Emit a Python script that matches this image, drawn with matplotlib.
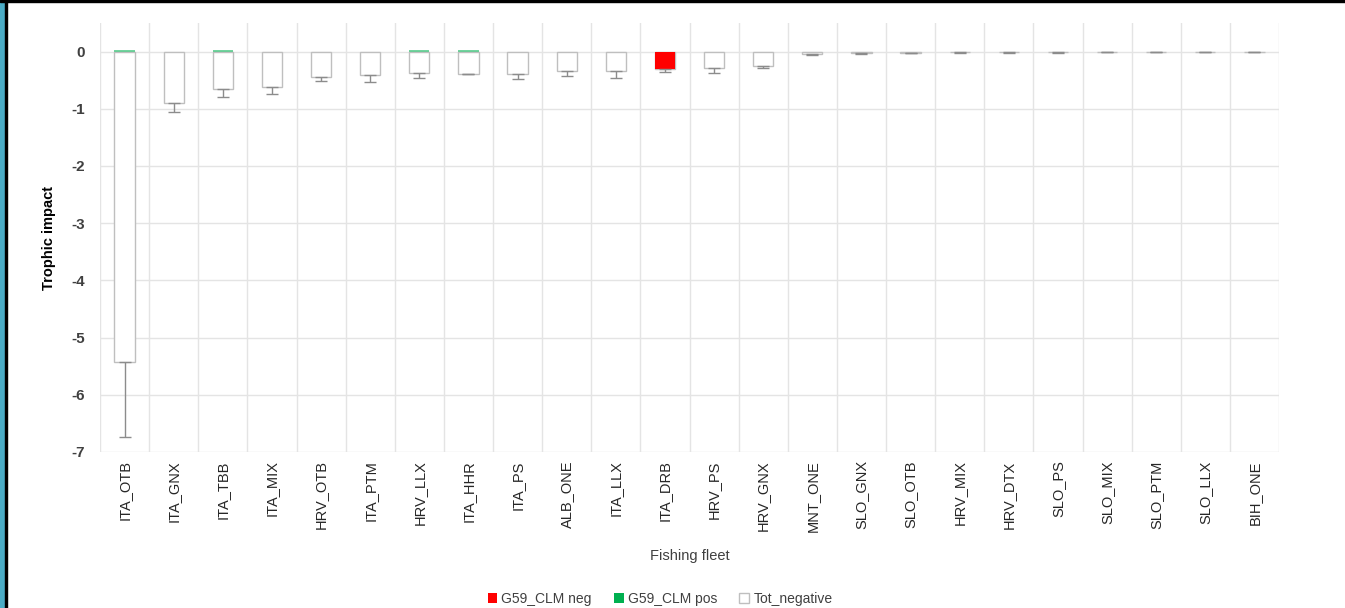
import numpy as np
import matplotlib.pyplot as plt
from matplotlib.patches import Patch, Rectangle

fleets = ['ITA_OTB', 'ITA_GNX', 'ITA_TBB', 'ITA_MIX', 'HRV_OTB', 'ITA_PTM',
          'HRV_LLX', 'ITA_HHR', 'ITA_PS', 'ALB_ONE', 'ITA_LLX', 'ITA_DRB',
          'HRV_PS', 'HRV_GNX', 'MNT_ONE', 'SLO_GNX', 'SLO_OTB', 'HRV_MIX',
          'HRV_DTX', 'SLO_PS', 'SLO_MIX', 'SLO_PTM', 'SLO_LLX', 'BIH_ONE']
tot_negative = [-5.43, -0.90, -0.65, -0.62, -0.45, -0.41, -0.38, -0.385,
                -0.385, -0.34, -0.34, -0.31, -0.29, -0.245, -0.035, -0.025,
                -0.02, -0.015, -0.015, -0.015, -0.01, -0.01, -0.01, -0.01]
tot_err = [1.31, 0.16, 0.14, 0.13, 0.06, 0.12, 0.09, 0.005, 0.09, 0.08,
           0.12, 0.05, 0.09, 0.05, 0.02, 0.01, 0.01, 0.01, 0.01, 0.01,
           0.005, 0.005, 0.005, 0.005]
clm_neg = [0, 0, 0, 0, 0, 0, 0, 0, 0, 0, 0, -0.30, 0, 0, 0, 0, 0, 0, 0, 0,
           0, 0, 0, 0]
clm_pos = [0.02, 0, 0.02, 0, 0, 0, 0.02, 0.02, 0, 0, 0, 0, 0, 0, 0, 0, 0,
           0, 0, 0, 0, 0, 0, 0]

plt.rcParams['font.family'] = ['Liberation Sans', 'DejaVu Sans']
plt.rcParams['axes.unicode_minus'] = False

fig = plt.figure(figsize=(13.45, 6.08), dpi=100)
ax = fig.add_axes([100 / 1345, 156 / 608, 1179 / 1345, 429 / 608])

x = np.arange(len(fleets))
w = 0.41
ax.bar(x, tot_negative, w, color='white', edgecolor='#BFBFBF', linewidth=1.0,
       zorder=2)
ax.errorbar(x, tot_negative, yerr=[tot_err, np.zeros(len(x))], fmt='none',
            ecolor='#8C8C8C', elinewidth=1.0, capsize=4, capthick=1.0, zorder=4)
ax.bar(x, clm_neg, w, color='#FF0000', linewidth=0, zorder=3)
ax.bar(x, clm_pos, w, color='#00B050', alpha=0.55, linewidth=0, zorder=3)

ax.set_xlim(-0.5, len(fleets) - 0.5)
ax.set_ylim(-7, 0.5)
ax.set_yticks(range(-7, 1))
ax.set_xticks(x)
ax.set_xticklabels(fleets, rotation=90, fontsize=10.5, color='#262626')
ax.tick_params(axis='both', length=0)
ax.tick_params(axis='x', pad=6)
ax.tick_params(axis='y', pad=11, labelsize=11, labelcolor='#404040')
for t in ax.get_yticklabels():
    t.set_fontweight('bold')

# category boundaries as vertical gridlines, integers as horizontal ones
for b in np.arange(-0.5, len(fleets), 1.0):
    ax.axvline(b, color='#E4E4E4', linewidth=1.0, zorder=0)
for v in range(-7, 1):
    ax.axhline(v, color='#E4E4E4', linewidth=1.0, zorder=0)
for s in ax.spines.values():
    s.set_visible(False)

ax.set_xlabel('Fishing fleet', fontsize=10.5, color='#404040', labelpad=12)
ax.set_ylabel('Trophic impact', fontsize=10.5, fontweight='bold',
              color='#000000', labelpad=11)

handles = [Patch(facecolor='#FF0000', edgecolor='none'),
           Patch(facecolor='#00B050', edgecolor='none'),
           Patch(facecolor='white', edgecolor='#BFBFBF')]
fig.legend(handles, ['G59_CLM neg', 'G59_CLM pos', 'Tot_negative'],
           loc='center', bbox_to_anchor=(660 / 1345, 1 - 599 / 608), ncol=3,
           frameon=False, fontsize=10, handlelength=0.7, handleheight=0.7,
           handletextpad=0.3, columnspacing=1.6, labelcolor='#404040')

# frame strips along the left and top edges
fig.patches.append(Rectangle((0, 0), 5 / 1345, 1, transform=fig.transFigure,
                             color='#4BACC6', zorder=10))
fig.patches.append(Rectangle((5 / 1345, 0), 2 / 1345, 1,
                             transform=fig.transFigure, color='black', zorder=10))
fig.patches.append(Rectangle((0, 1 - 2 / 608), 1, 2 / 608,
                             transform=fig.transFigure, color='black', zorder=11))

fig.savefig('out.png', dpi=100)
